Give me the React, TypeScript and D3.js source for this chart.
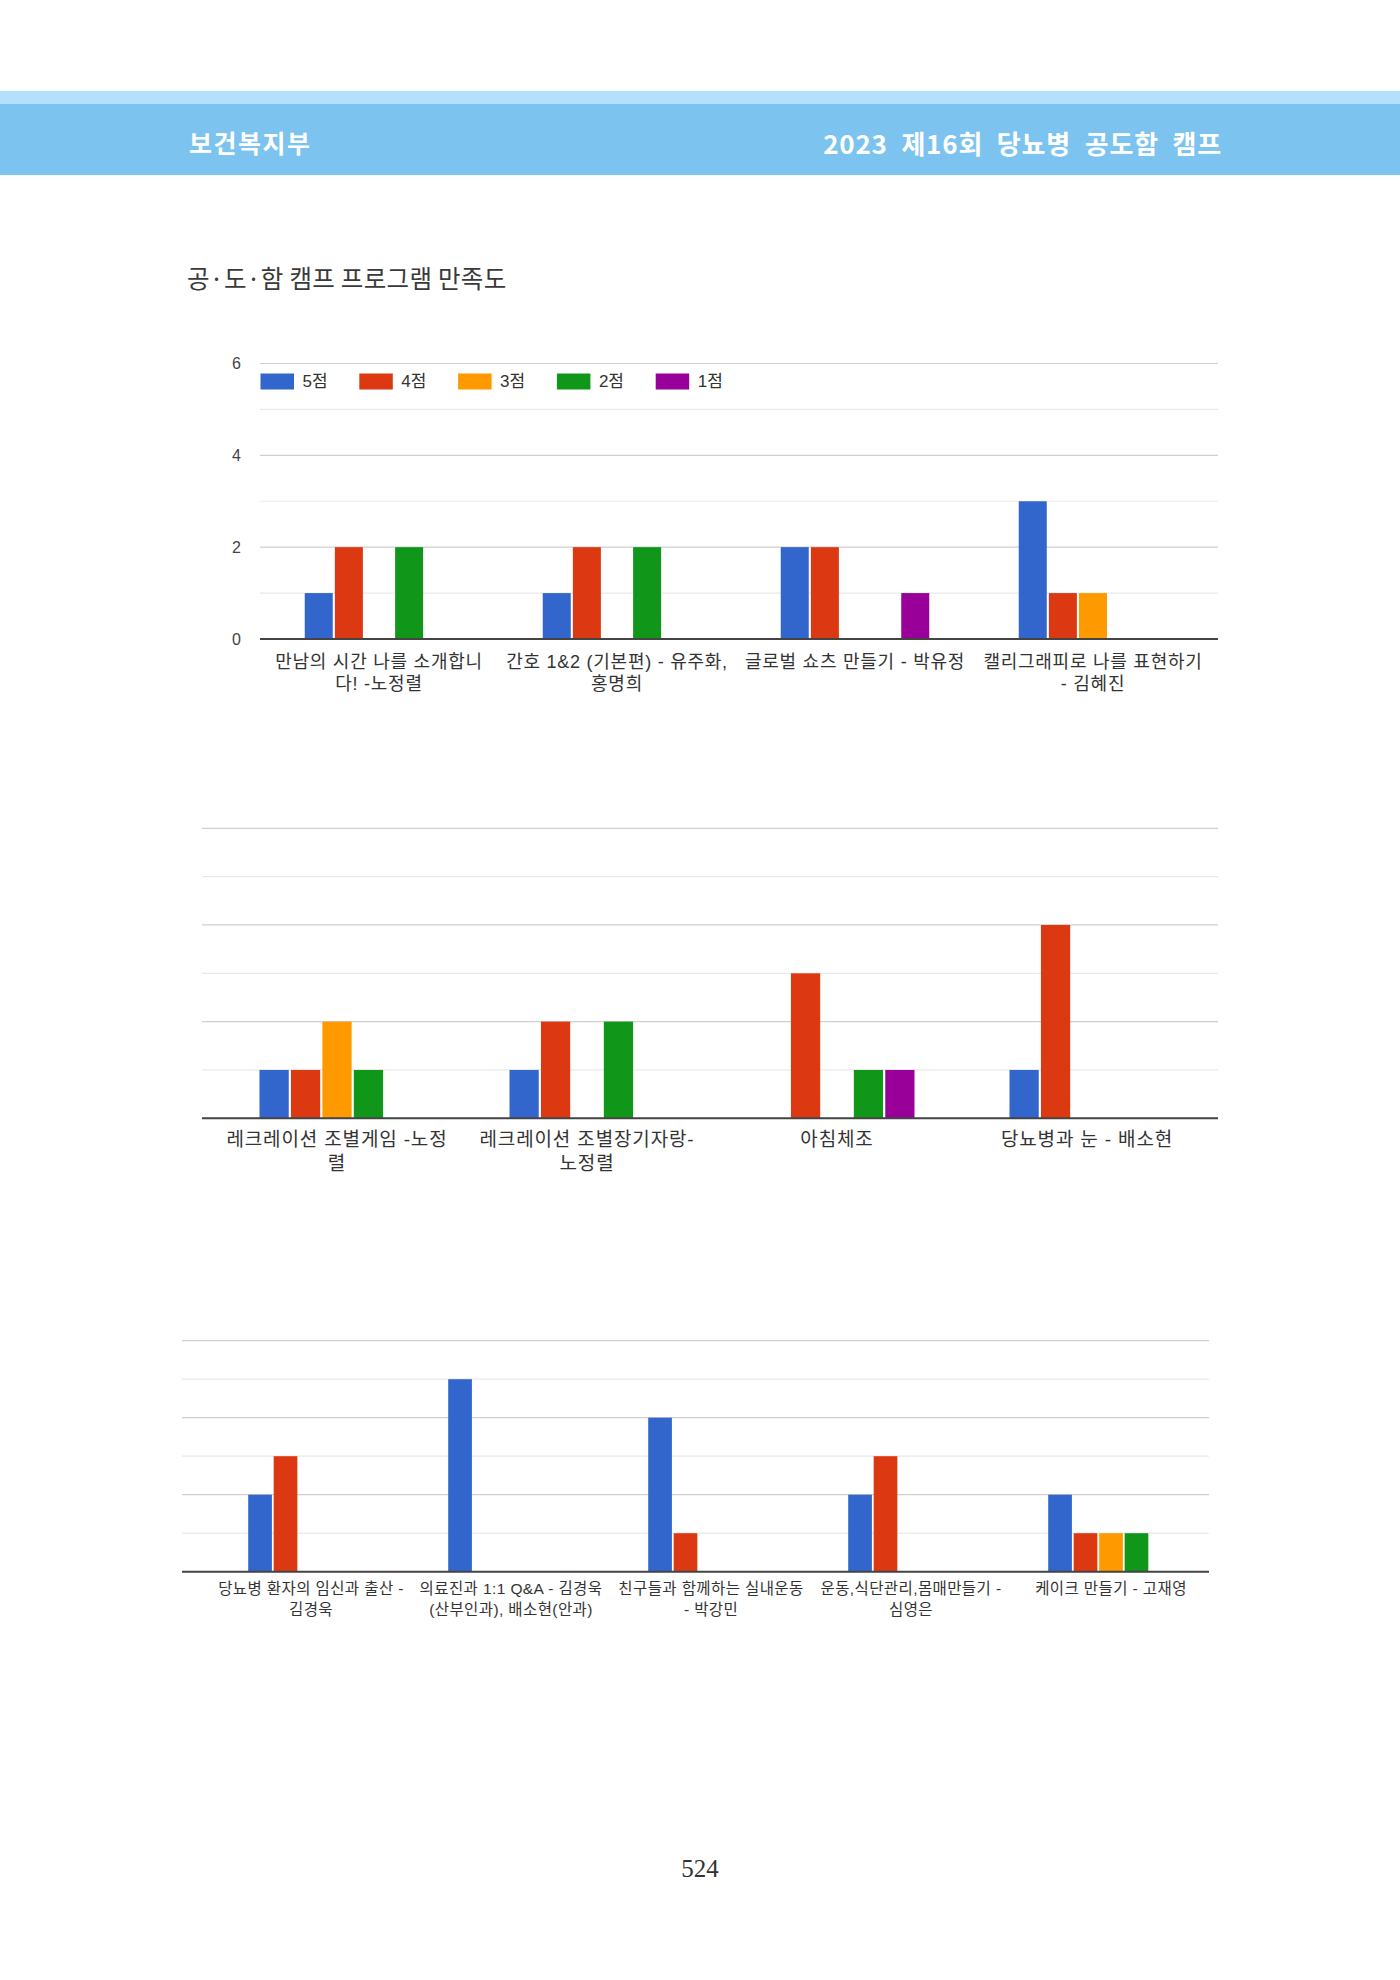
import React from "react";
import * as d3 from "d3";

// Rating categories and their colours
const seriesNames = ["5점", "4점", "3점", "2점", "1점"];
const seriesColors = ["#3366cc", "#dc3912", "#ff9900", "#109618", "#990099"];

// Programme names (line breaks as printed under each group)
const programsA = [
  "만남의 시간 나를 소개합니\n다! -노정렬",
  "간호 1&2 (기본편) - 유주화,\n홍명희",
  "글로벌 쇼츠 만들기 - 박유정",
  "캘리그래피로 나를 표현하기\n- 김혜진",
];
const scoresA = [
  [1, 2, 0, 2, 0],
  [1, 2, 0, 2, 0],
  [2, 2, 0, 0, 1],
  [3, 1, 1, 0, 0],
];

const programsB = [
  "레크레이션 조별게임 -노정\n렬",
  "레크레이션 조별장기자랑-\n노정렬",
  "아침체조",
  "당뇨병과 눈 - 배소현",
];
const scoresB = [
  [1, 1, 2, 1, 0],
  [1, 2, 0, 2, 0],
  [0, 3, 0, 1, 1],
  [1, 4, 0, 0, 0],
];

const programsC = [
  "당뇨병 환자의 임신과 출산 -\n김경욱",
  "의료진과 1:1 Q&A - 김경욱\n(산부인과), 배소현(안과)",
  "친구들과 함께하는 실내운동\n- 박강민",
  "운동,식단관리,몸매만들기 -\n심영은",
  "케이크 만들기 - 고재영",
];
const scoresC = [
  [2, 3, 0, 0, 0],
  [5, 0, 0, 0, 0],
  [4, 1, 0, 0, 0],
  [2, 3, 0, 0, 0],
  [2, 1, 1, 1, 0],
];

const yTickLabels = [0, 2, 4, 6];
const yMax = 6;

const LABEL_FONT = "'Liberation Sans', 'Noto Sans CJK KR', sans-serif";
const KR_FONT = "'Noto Sans CJK KR', sans-serif";

type Layout = {
  gridLeft: number;
  gridRight: number;
  bandLeft: number;
  bandRight: number;
  top: number;
  base: number;
  fontSize: number;
  letterSpacing: number;
  labelY: number;
  lineHeight: number;
  groupRatio: number;
  showAxis?: boolean;
  showLegend?: boolean;
};

function GroupedBars({
  categories,
  values,
  layout,
}: {
  categories: string[];
  values: number[][];
  layout: Layout;
}) {
  const L = layout;
  const y = d3.scaleLinear().domain([0, yMax]).range([L.base, L.top]);
  const pad = 1 - L.groupRatio;
  const x0 = d3
    .scaleBand<string>()
    .domain(categories)
    .range([L.bandLeft, L.bandRight])
    .paddingInner(pad)
    .paddingOuter(pad / 2);
  const x1 = d3
    .scaleBand<string>()
    .domain(seriesNames)
    .range([0, x0.bandwidth()])
    .paddingInner(0.07);

  const gridVals = d3.range(0, yMax + 1);

  return (
    <g>
      {gridVals.map((v) => (
        <line
          key={"g" + v}
          x1={L.gridLeft}
          x2={L.gridRight}
          y1={y(v)}
          y2={y(v)}
          stroke={v % 2 === 0 ? "#cfcfcf" : "#e9e9e9"}
          strokeWidth={1.2}
        />
      ))}
      {L.showAxis &&
        yTickLabels.map((t) => (
          <text
            key={"t" + t}
            x={241}
            y={y(t)}
            textAnchor="end"
            dominantBaseline="central"
            fontFamily={LABEL_FONT}
            fontSize={16}
            fill="#444"
          >
            {t}
          </text>
        ))}
      {L.showLegend &&
        seriesNames.map((s, j) => (
          <g key={"l" + s} transform={`translate(${260.5 + j * 98.8},381.5)`}>
            <rect x={0} y={-8} width={33.5} height={16} fill={seriesColors[j]} />
            <text
              x={42}
              y={0}
              dominantBaseline="central"
              fontFamily={LABEL_FONT}
              fontSize={17}
              fill="#333"
            >
              {s}
            </text>
          </g>
        ))}
      {categories.map((c, i) =>
        values[i].map((v, j) =>
          v > 0 ? (
            <rect
              key={`b${i}-${j}`}
              x={(x0(c) as number) + (x1(seriesNames[j]) as number)}
              y={y(v)}
              width={x1.bandwidth()}
              height={y(0) - y(v)}
              fill={seriesColors[j]}
            />
          ) : null
        )
      )}
      <line
        x1={L.gridLeft}
        x2={L.gridRight}
        y1={y(0)}
        y2={y(0)}
        stroke="#444"
        strokeWidth={2}
      />
      {categories.map((c, i) => {
        const cx = (x0(c) as number) + x0.bandwidth() / 2;
        return c.split("\n").map((line, k) => (
          <text
            key={`c${i}-${k}`}
            x={cx}
            y={L.labelY + k * L.lineHeight}
            textAnchor="middle"
            dominantBaseline="central"
            fontFamily={LABEL_FONT}
            fontSize={L.fontSize}
            letterSpacing={L.letterSpacing}
            fill="#333"
          >
            {line}
          </text>
        ));
      })}
    </g>
  );
}

export default function App() {
  return (
    <svg
      width={1400}
      height={1980}
      viewBox="0 0 1400 1980"
      style={{ position: "absolute", left: 0, top: 0, background: "#fff" }}
    >
      <rect x={0} y={0} width={1400} height={1980} fill="#fff" />
      {/* page header band */}
      <rect x={0} y={91} width={1400} height={13} fill="#b3e0fb" />
      <rect x={0} y={104} width={1400} height={71} fill="#7cc4ef" />
      <text
        x={189}
        y={142}
        dominantBaseline="central"
        fontFamily={KR_FONT}
        fontWeight={700}
        fontSize={25}
        letterSpacing={1.5}
        fill="#fff"
      >
        보건복지부
      </text>
      <text
        x={1222}
        y={142}
        textAnchor="end"
        dominantBaseline="central"
        fontFamily={KR_FONT}
        fontWeight={700}
        fontSize={26}
        letterSpacing={0.8}
        wordSpacing={7}
        fill="#fff"
      >
        2023 제16회 당뇨병 공도함 캠프
      </text>

      <text
        x={187}
        y={277}
        dominantBaseline="central"
        fontFamily={KR_FONT}
        fontSize={24.5}
        letterSpacing={0.3}
        fill="#3a3a3a"
      >
        공·도·함 캠프 프로그램 만족도
      </text>

      <GroupedBars
        categories={programsA}
        values={scoresA}
        layout={{
          gridLeft: 260,
          gridRight: 1218,
          bandLeft: 260,
          bandRight: 1212,
          top: 363.5,
          base: 639,
          fontSize: 18,
          letterSpacing: 0.75,
          labelY: 662,
          lineHeight: 22,
          groupRatio: 0.624,
          showAxis: true,
          showLegend: true,
        }}
      />
      <GroupedBars
        categories={programsB}
        values={scoresB}
        layout={{
          gridLeft: 202,
          gridRight: 1218,
          bandLeft: 212,
          bandRight: 1212,
          top: 828.3,
          base: 1118.3,
          fontSize: 19,
          letterSpacing: 0.85,
          labelY: 1139,
          lineHeight: 24,
          groupRatio: 0.62,
        }}
      />
      <GroupedBars
        categories={programsC}
        values={scoresC}
        layout={{
          gridLeft: 182,
          gridRight: 1209,
          bandLeft: 211,
          bandRight: 1211,
          top: 1340.7,
          base: 1571.7,
          fontSize: 15.5,
          letterSpacing: 0.4,
          labelY: 1588,
          lineHeight: 21,
          groupRatio: 0.628,
        }}
      />

      <text
        x={700}
        y={1868}
        textAnchor="middle"
        dominantBaseline="central"
        fontFamily="'Liberation Serif', 'DejaVu Serif', serif"
        fontSize={25}
        fill="#333"
      >
        524
      </text>
    </svg>
  );
}
